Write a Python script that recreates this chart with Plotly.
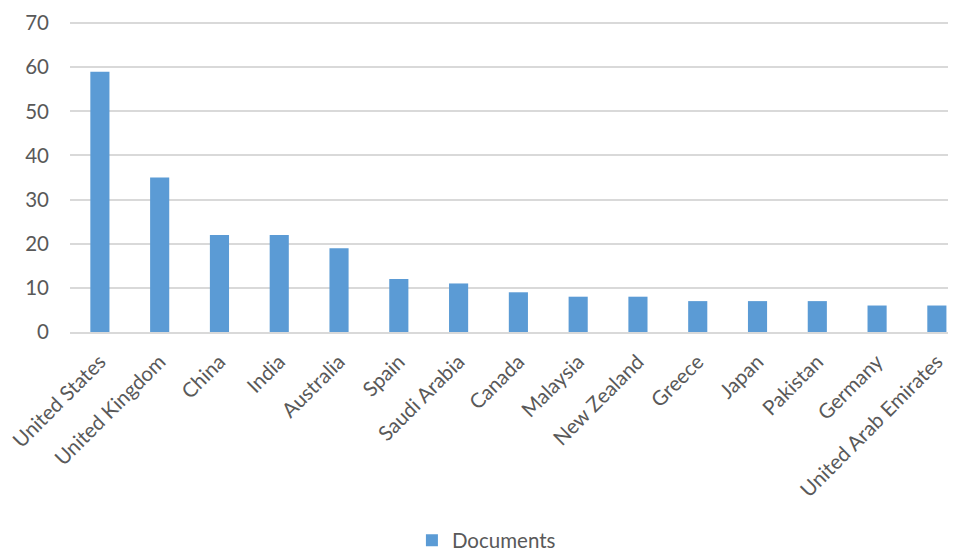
import plotly.graph_objects as go

countries = ["United States", "United Kingdom", "China", "India", "Australia", "Spain",
             "Saudi Arabia", "Canada", "Malaysia", "New Zealand", "Greece", "Japan",
             "Pakistan", "Germany", "United Arab Emirates"]
documents = [59, 35, 22, 22, 19, 12, 11, 9, 8, 8, 7, 7, 7, 6, 6]
y_ticks = [0, 10, 20, 30, 40, 50, 60, 70]

fig = go.Figure()
fig.add_trace(go.Bar(x=countries, y=documents, name="Documents",
                     marker=dict(color="#5B9BD5", line=dict(width=0))))

fig.update_layout(
    width=956, height=565,
    margin=dict(l=62, r=8, t=14, b=241),
    plot_bgcolor="white", paper_bgcolor="white",
    bargap=0.68,
    font=dict(family="Lato", size=20.5, color="#595959"),
    showlegend=True,
    legend=dict(orientation="h", x=0.47, xanchor="center", y=-0.672, yanchor="middle",
                font=dict(size=20.5, color="#595959")),
    xaxis=dict(range=[-0.5, 14.32], tickangle=-45, showgrid=False, showline=True,
               linecolor="#D9D9D9", linewidth=1.5, ticks="", zeroline=False,
               automargin=False, ticklabelstandoff=8),
    yaxis=dict(range=[0, 70.25], tickvals=y_ticks, showgrid=True, gridcolor="#D9D9D9",
               gridwidth=1.5, zeroline=False, showline=False, ticks="", ticklen=0,
               ticklabelstandoff=20, automargin=False),
)
fig.write_html("out.html")
